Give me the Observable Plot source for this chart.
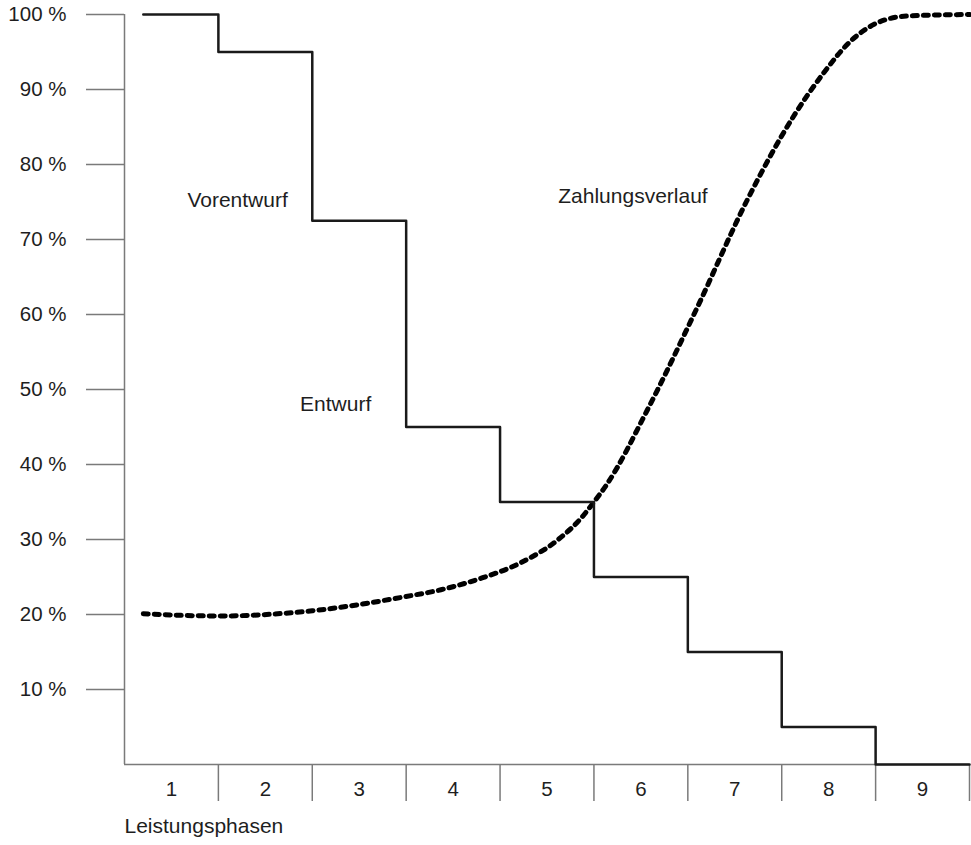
<!DOCTYPE html>
<html>
<head>
<meta charset="utf-8">
<script src="https://cdn.jsdelivr.net/npm/d3@7"></script>
<script src="https://cdn.jsdelivr.net/npm/@observablehq/plot@0.6"></script>
<style>
  html, body { margin: 0; padding: 0; background: white; }
  #chart svg { display: block; overflow: visible; }
</style>
</head>
<body>
<div id="chart"></div>
<script>
// Phase labels along x
const phases = ["1", "2", "3", "4", "5", "6", "7", "8", "9"];
const phaseBoundaries = [1, 2, 3, 4, 5, 6, 7, 8, 9];
const yTicks = [10, 20, 30, 40, 50, 60, 70, 80, 90, 100];

// Step line (remaining share per phase)
const stepX = [0.2, 1, 2, 3, 4, 5, 6, 7, 8, 9];
const stepY = [100, 95, 72.5, 45, 35, 25, 15, 5, 0, 0];

// Payment curve (Zahlungsverlauf)
const payX = [0.2, 1.0, 2.0, 3.0, 3.37, 3.79, 4.22, 4.61, 4.86, 5.0, 5.14, 5.57, 6.11, 6.63, 7.12, 7.44, 7.73, 8.02, 8.34, 9.0];
const payY = [20.1, 19.8, 20.5, 22.4, 23.3, 24.8, 26.9, 29.9, 32.8, 35.0, 37.4, 47.3, 61.2, 75.2, 86.3, 92.1, 96.4, 98.9, 99.8, 100];

// Annotations
const labelText = ["Vorentwurf", "Entwurf", "Zahlungsverlauf"];
const labelX = [0.67, 1.87, 4.62];
const labelY = [75.2, 48.0, 75.7];

const stepData = stepX.map((x, i) => ({x, y: stepY[i]}));
const payData = payX.map((x, i) => ({x, y: payY[i]}));
const labels = labelText.map((t, i) => ({t, x: labelX[i], y: labelY[i]}));

const axisGray = "#7a7a7a";
const textColor = "#1e1e1e";
const fs = 21;

const chart = Plot.plot({
  width: 971,
  height: 845,
  marginLeft: 124,
  marginRight: 2,
  marginTop: 14,
  marginBottom: 81,
  x: {domain: [0, 9]},
  y: {domain: [0, 100]},
  style: {fontFamily: "Liberation Sans, Arial, sans-serif", fontSize: fs + "px", color: textColor, background: "white"},
  marks: [
    // y ticks (lines)
    Plot.axisY({ticks: yTicks, tickSize: 38, text: null, stroke: axisGray, strokeWidth: 1.5, label: null}),
    // y tick labels
    Plot.axisY({ticks: yTicks, tickSize: 0, tickPadding: 58, tickFormat: d => d + " %", fill: textColor, fontSize: 20.5, label: null}),
    // x boundary ticks
    Plot.axisX({ticks: phaseBoundaries, tickSize: 37, text: null, stroke: axisGray, strokeWidth: 1.5, label: null}),
    // phase labels
    Plot.text(phases, {x: (d, i) => i + 0.5, text: d => d, frameAnchor: "bottom", dy: 31, fill: textColor, fontSize: 20.5}),
    Plot.text(["Leistungsphasen"], {frameAnchor: "bottom-left", dy: 68, textAnchor: "start", fill: textColor, fontSize: fs}),
    // axis lines
    Plot.ruleX([0], {y1: 0, y2: 100, stroke: axisGray, strokeWidth: 1.5}),
    Plot.ruleY([0], {x1: 0, x2: 9, stroke: axisGray, strokeWidth: 1.5}),
    // payment curve
    Plot.line(payData, {x: "x", y: "y", curve: "monotone-x", stroke: "black", strokeWidth: 5, strokeDasharray: "5,6"}),
    // step line
    Plot.line(stepData, {x: "x", y: "y", curve: "step-after", stroke: "#1a1a1a", strokeWidth: 2.5}),
    // annotations
    Plot.text(labels, {x: "x", y: "y", text: "t", textAnchor: "start", fill: textColor, fontSize: fs})
  ]
});
document.getElementById("chart").appendChild(chart);
</script>
</body>
</html>
